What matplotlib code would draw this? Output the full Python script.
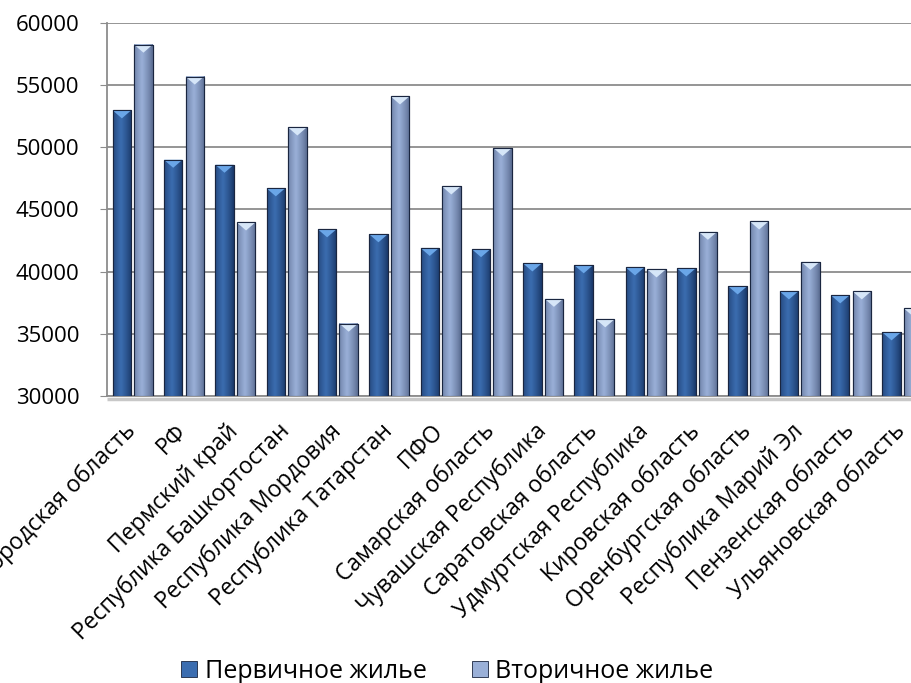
import numpy as np
import matplotlib
matplotlib.use("Agg")
import matplotlib.pyplot as plt
import matplotlib.transforms as mtransforms
from matplotlib.colors import LinearSegmentedColormap
from matplotlib.patches import Polygon, Patch

plt.rcParams['font.family'] = ['Open Sans', 'DejaVu Sans']

# Data
regions = ['Нижегородская область', 'РФ', 'Пермский край', 'Республика Башкортостан',
           'Республика Мордовия', 'Республика Татарстан', 'ПФО', 'Самарская область',
           'Чувашская Республика', 'Саратовская область', 'Удмуртская Республика',
           'Кировская область', 'Оренбургская область', 'Республика Марий Эл',
           'Пензенская область', 'Ульяновская область']
primary = [52980, 49000, 48600, 46700, 43400, 43000, 41900, 41800,
           40650, 40500, 40330, 40250, 38800, 38400, 38080, 35100]
secondary = [58270, 55700, 43950, 51600, 35800, 54100, 46850, 49950,
             37800, 36150, 40170, 43200, 44030, 40780, 38400, 37030]
series_names = ['Первичное жилье', 'Вторичное жилье']

y_min, y_max = 30000, 60000

# bar styles: (edge colour, centre colour, cap colour)
styles = [('#1b3a6b', '#3b6db0', '#6aa6e8'),
          ('#5d6f94', '#9ab0d8', '#d6e6f8')]

fig = plt.figure(figsize=(9.11, 6.83), dpi=100)
ax = fig.add_axes([107 / 911, 1 - 395.7 / 683, 821 / 911, 372.5 / 683])

x = np.arange(len(regions))
width = 0.36
offsets = [-0.21, 0.21]

# horizontal shading profile across a bar
prof = np.linspace(0, 1, 40)
shade = np.clip(1 - np.abs(prof - 0.42) / 0.55, 0, 1) ** 0.8
shade = shade[np.newaxis, :]

units_per_px = (y_max - y_min) / 372.5
cap_h = 8 * units_per_px

for values, off, (c_edge, c_mid, c_cap) in zip([primary, secondary], offsets, styles):
    cmap = LinearSegmentedColormap.from_list('b', [c_edge, c_mid])
    bars = ax.bar(x + off, np.array(values) - y_min, width, bottom=y_min,
                  color=c_mid, edgecolor='#1a2640', linewidth=0.8, zorder=3)
    for b in bars:
        x0, w = b.get_x(), b.get_width()
        top = b.get_y() + b.get_height()
        ax.imshow(shade, cmap=cmap, vmin=0, vmax=1, aspect='auto',
                  extent=[x0, x0 + w, y_min, top], zorder=3.5, interpolation='bicubic')
        ax.add_patch(Polygon([[x0, top], [x0 + w, top], [x0 + w / 2, top - cap_h]],
                             closed=True, facecolor=c_cap, edgecolor='none', zorder=4))
        ax.add_patch(plt.Rectangle((x0, y_min), w, top - y_min, fill=False,
                                   edgecolor='#1a2640', linewidth=0.8, zorder=4.5))

ax.set_xlim(-0.5, len(regions) - 0.5)
ax.set_ylim(y_min, y_max)
ax.set_yticks(np.arange(y_min, y_max + 1, 5000))
ax.yaxis.grid(True, color='#8c8c8c', linewidth=1.3, zorder=0)
ax.set_axisbelow(True)

ax.set_xticks(x)
ax.set_xticklabels(regions, rotation=45, ha='right', rotation_mode='anchor', fontsize=16.5)
ax.tick_params(axis='x', length=0, pad=17)
ax.tick_params(axis='y', labelsize=16, length=5, color='#8c8c8c', pad=15)
shift = mtransforms.ScaledTranslation(-9 / 100, 0, fig.dpi_scale_trans)
for lbl in ax.get_xticklabels():
    lbl.set_transform(lbl.get_transform() + shift)

for side in ['top', 'right']:
    ax.spines[side].set_visible(False)
for side in ['left', 'bottom']:
    ax.spines[side].set_color('#8c8c8c')
    ax.spines[side].set_linewidth(1.3)

# soft shadow under the category axis
ax.plot([0, 1], [-0.008, -0.008], transform=ax.transAxes, color='#c8c8c8',
        linewidth=2.5, clip_on=False, zorder=1, solid_capstyle='butt')

handles = [Patch(facecolor=s[1], edgecolor='#1a2640', linewidth=0.6) for s in styles]
fig.legend(handles, series_names, loc='lower center', bbox_to_anchor=(0.491, -0.034),
           ncol=2, frameon=False, fontsize=18, handlelength=0.65, handleheight=0.65,
           handletextpad=0.3, columnspacing=1.8)

fig.savefig('out.png', dpi=100)
